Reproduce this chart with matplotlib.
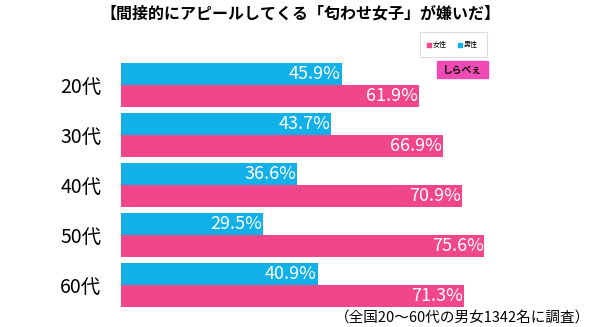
import matplotlib.pyplot as plt
from matplotlib.patches import Rectangle
import numpy as np

plt.rcParams['font.family'] = ['Noto Sans CJK JP', 'DejaVu Sans']

categories = ['20代', '30代', '40代', '50代', '60代']
female = [61.9, 66.9, 70.9, 75.6, 71.3]
male = [45.9, 43.7, 36.6, 29.5, 40.9]

title = '【間接的にアピールしてくる「匂わせ女子」が嫌いだ】'
note = '（全国20～60代の男女1342名に調査）'

pink = '#F2468A'
blue = '#12B0E8'

W, H = 600, 327
fig = plt.figure(figsize=(6, 3.27), dpi=100)
# axes placed in pixel coords: x 121..597, y 60..310 (from top)
ax = fig.add_axes([121 / W, 1 - 310 / H, (597 - 121) / W, 250 / H])

y = np.arange(len(categories))
h = 0.44
ax.barh(y - h / 2, male, height=h, color=blue)
ax.barh(y + h / 2, female, height=h, color=pink)

for i in range(len(categories)):
    ax.text(male[i] - 0.2, y[i] - h / 2, f'{male[i]}%', color='white',
            ha='right', va='center', fontsize=13)
    ax.text(female[i] - 0.2, y[i] + h / 2, f'{female[i]}%', color='white',
            ha='right', va='center', fontsize=13)

ax.set_xlim(0, 99)
ax.set_ylim(len(categories) - 0.5, -0.5)
ax.set_yticks(y)
ax.set_yticklabels(categories, fontsize=14)
ax.tick_params(axis='y', length=0, pad=14)
ax.set_xticks([])
for s in ax.spines.values():
    s.set_visible(False)

fig.text(0.5, 1 - 13 / H, title, ha='center', va='center',
         fontsize=11.5, fontweight='bold')
fig.text(590 / W, 1 - 318 / H, note, ha='right', va='center', fontsize=10.5)

# legend box
lx0, ly0, lx1, ly1 = 420, 32, 487, 57
fig.patches.append(Rectangle((lx0 / W, 1 - ly1 / H), (lx1 - lx0) / W, (ly1 - ly0) / H,
                             transform=fig.transFigure, facecolor='white',
                             edgecolor='#dddddd', linewidth=0.8))
fig.patches.append(Rectangle((427 / W, 1 - 47 / H), 4 / W, 4 / H,
                             transform=fig.transFigure, color=pink))
fig.text(433 / W, 1 - 45 / H, '女性', fontsize=5, va='center')
fig.patches.append(Rectangle((458 / W, 1 - 47 / H), 4 / W, 4 / H,
                             transform=fig.transFigure, color=blue))
fig.text(464 / W, 1 - 45 / H, '男性', fontsize=5, va='center')

# logo
fig.patches.append(Rectangle((437 / W, 1 - 78 / H), 51 / W, 17 / H,
                             transform=fig.transFigure, color='#F04BB4'))
fig.text(462 / W, 1 - 69.5 / H, 'しらべぇ', fontsize=7, fontweight='bold',
         ha='center', va='center', color='black')

fig.savefig('out.png', dpi=100)
